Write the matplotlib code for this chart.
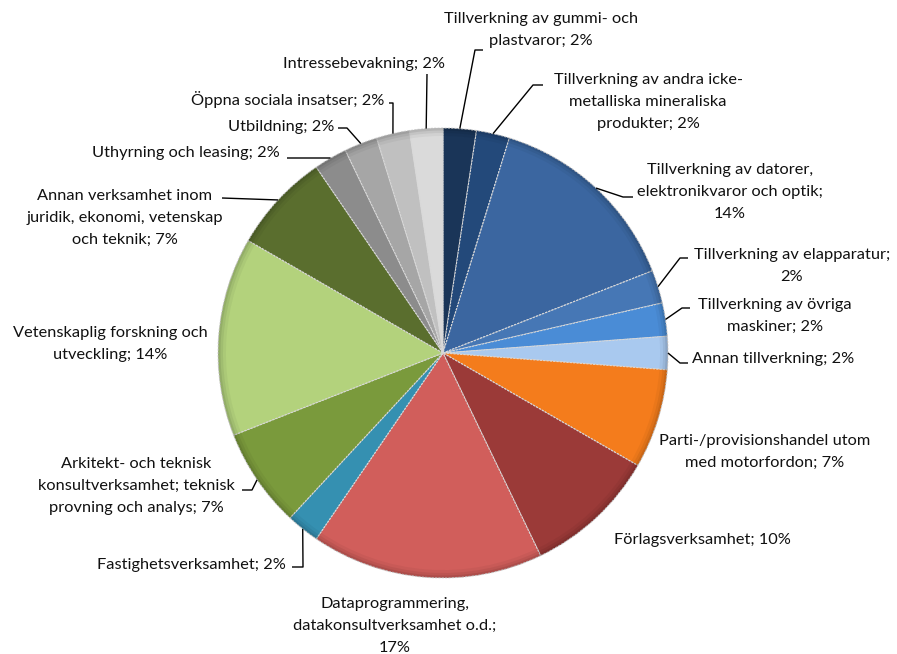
import numpy as np
import matplotlib
matplotlib.use("Agg")
import matplotlib.pyplot as plt

plt.rcParams['font.family'] = ['Lato', 'DejaVu Sans']

# Number of companies per industry (shares shown as rounded percentages)
labels = [
    "Tillverkning av gummi- och\nplastvaror; {p}%",
    "Tillverkning av andra icke-\nmetalliska mineraliska\nprodukter; {p}%",
    "Tillverkning av datorer,\nelektronikvaror och optik;\n{p}%",
    "Tillverkning av elapparatur;\n{p}%",
    "Tillverkning av övriga\nmaskiner; {p}%",
    "Annan tillverkning; {p}%",
    "Parti-/provisionshandel utom\nmed motorfordon; {p}%",
    "Förlagsverksamhet; {p}%",
    "Dataprogrammering,\ndatakonsultverksamhet o.d.;\n{p}%",
    "Fastighetsverksamhet; {p}%",
    "Arkitekt- och teknisk\nkonsultverksamhet; teknisk\nprovning och analys; {p}%",
    "Vetenskaplig forskning och\nutveckling; {p}%",
    "Annan verksamhet inom\njuridik, ekonomi, vetenskap\noch teknik; {p}%",
    "Uthyrning och leasing; {p}%",
    "Utbildning; {p}%",
    "Öppna sociala insatser; {p}%",
    "Intressebevakning; {p}%",
]
counts = [1, 1, 6, 1, 1, 1, 3, 4, 7, 1, 3, 6, 3, 1, 1, 1, 1]
colors = [
    "#1a3558", "#23497a", "#3b66a0", "#4677b5", "#4a8cd6", "#a9c9ef",
    "#f47c1c", "#9b3a38", "#d15e5b", "#3590b1", "#7a9a3c", "#b3d27c",
    "#5a6e2e", "#8c8c8c", "#a6a6a6", "#c0c0c0", "#dadada",
]

W, H = 897, 654
fig = plt.figure(figsize=(W / 100, H / 100), dpi=100)
ax = fig.add_axes([0, 0, 1, 1])

cx, cy, R = 443, 353, 225


def P(x, y):
    """Pixel position measured from the top-left corner -> axes coordinates."""
    return x, H - y


wedges, _ = ax.pie(
    counts, colors=colors, startangle=90, counterclock=False,
    center=P(cx, cy), radius=R,
    wedgeprops=dict(edgecolor="#d8d8d8", linewidth=0.8, linestyle=(0, (2, 1))),
)

# darker rim on each wedge for a bevelled look
for w, c in zip(wedges, colors):
    for k, a in [(8, 0.04), (5, 0.06), (2.5, 0.08)]:
        rim = matplotlib.patches.Wedge(
            w.center, R, w.theta1, w.theta2, width=k,
            facecolor="black", alpha=a, edgecolor="none")
        ax.add_patch(rim)

ax.set_xlim(0, W)
ax.set_ylim(0, H)
ax.set_aspect("auto")
ax.axis("off")

total = sum(counts)
pcts = [int(round(100 * c / total)) for c in counts]

# text anchor (pixel), horizontal alignment, leader path from label side
layout = [
    ((541, 30), "center", [(483, 50), (475, 50)]),
    ((648, 102), "center", [(543, 85), (533, 85)]),
    ((730, 192), "center", [(633, 197), (623, 197)]),
    ((792, 266), "center", [(688, 258), (680, 258)]),
    ((775, 316), "center", [(690, 308), (682, 308)]),
    ((773, 359), "center", [(688, 363), (680, 363)]),
    ((765, 452), "center", None),
    ((702, 540), "center", None),
    ((395, 626), "center", None),
    ((191, 565), "center", [(292, 567), (303, 567)]),
    ((136, 486), "center", [(242, 490), (252, 490)]),
    ((110, 344), "center", None),
    ((125, 218), "center", [(222, 198)]),
    ((186, 153), "center", [(287, 158), (330, 158)]),
    ((281, 127), "center", [(338, 128), (347, 128)]),
    ((288, 99), "center", [(389, 103), (393, 103)]),
    ((364, 64), "center", [(427, 74)]),
]

cum = np.cumsum([0] + counts)
for i, (lab, (pos, ha, path)) in enumerate(zip(labels, layout)):
    ax.text(*P(*pos), lab.format(p=pcts[i]), ha=ha, va="center",
            multialignment="center", fontsize=11.8, color="#111111",
            linespacing=1.72)
    if path:
        mid = (cum[i] + counts[i] / 2) / total * 2 * np.pi
        rx = cx + R * np.sin(mid)
        ry = cy - R * np.cos(mid)
        pts = [P(*p) for p in path] + [P(rx, ry)]
        xs, ys = zip(*pts)
        ax.plot(xs, ys, color="black", linewidth=1.0, solid_capstyle="butt")

fig.savefig("out.png", dpi=100)
